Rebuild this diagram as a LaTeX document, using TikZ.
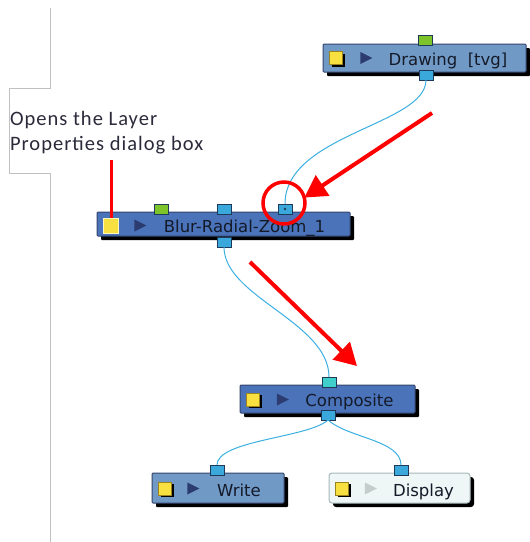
\documentclass[tikz,border=0pt]{standalone}
\usepackage{fontspec}
\setmainfont{DejaVu Sans}
\newfontfamily\notefont[LetterSpace=5]{Carlito}
\usetikzlibrary{arrows.meta, positioning, shapes.geometric, shadows}

\definecolor{nodedark}{HTML}{4A73BA}
\definecolor{nodelite}{HTML}{7199C6}
\definecolor{nodeedge}{HTML}{34446C}
\definecolor{viewfill}{HTML}{EEF6F6}
\definecolor{viewedge}{HTML}{A8B8B8}
\definecolor{titleink}{HTML}{141A28}
\definecolor{layeryellow}{HTML}{F8E040}
\definecolor{layeredge}{HTML}{9A8420}
\definecolor{layerpale}{HTML}{FFF6C0}
\definecolor{playink}{HTML}{2C3C70}
\definecolor{playpale}{HTML}{C4CCCC}
\definecolor{portblue}{HTML}{3BA8DC}
\definecolor{portgreen}{HTML}{7CC42A}
\definecolor{portteal}{HTML}{40D0CC}
\definecolor{portedge}{HTML}{1E3A5A}
\definecolor{wireblue}{HTML}{3AAFE0}
\definecolor{alert}{HTML}{FF0000}
\definecolor{framegray}{HTML}{C0C0C0}
\definecolor{noteink}{HTML}{2A2A3A}

\begin{document}
\begin{tikzpicture}[x=1pt, y=-1pt,
    every node/.style={inner sep=0pt, outer sep=0pt},
    netnode/.style={draw=nodeedge, fill=nodedark, line width=1pt, minimum height=28pt, rounded corners=1pt,
        drop shadow={shadow xshift=4pt, shadow yshift=-4pt, opacity=1, fill=black}},
    litenode/.style={netnode, fill=nodelite},
    viewnode/.style={netnode, draw=viewedge, fill=viewfill, rounded corners=3pt},
    title/.style={anchor=base, font=\fontsize{16.5}{18}\selectfont, text=titleink},
    layerface/.style={draw=layeredge, fill=layeryellow, line width=0.8pt, minimum size=13pt},
    layerbtn/.style={layerface, drop shadow={shadow xshift=2pt, shadow yshift=-2pt, opacity=1, fill=black}},
    playbtn/.style={isosceles triangle, isosceles triangle stretches, minimum width=12pt, minimum height=12pt, fill=playink},
    port/.style={draw=portedge, fill=portblue, line width=0.8pt, minimum width=14pt, minimum height=10pt},
    wire/.style={draw=wireblue, line width=1pt},
    ring/.style={circle, draw=alert, line width=3.5pt, minimum size=42pt},
    pointer/.style={draw=alert, line width=4pt, -{Triangle[length=22pt, width=24pt]}}
]
\useasboundingbox (0,0) rectangle (530,542);

% margin frame
\draw[framegray, line width=0.8pt] (50,8) -- (50,88) -- (9,88) -- (9,173) -- (50,173) -- (50,542);

% Drawing
\node[litenode, minimum width=203pt] (drawing) at (424.5,58) {};
\node[layerbtn] (drawing-layer) at (336,58) {};
\node[playbtn] (drawing-play) at (364,58) {};
\node[title] (drawing-name) at (448,65) {Drawing\ \ [tvg]};
\node[port, fill=portgreen] (drawing-in) at (425,40) {};
\node[port] (drawing-out) at (426,75) {};

% Blur-Radial-Zoom_1
\node[netnode, minimum width=253pt, minimum height=24pt] (blur) at (223.5,224) {};
\node[layerface, draw=layerpale, minimum size=15pt] (blur-layer) at (111,225.5) {};
\node[playbtn] (blur-play) at (138,225.5) {};
\node[title] (blur-name) at (244.5,232) {Blur-Radial-Zoom\_1};
\node[port, fill=portgreen] (blur-fx) at (161,209) {};
\node[port] (blur-mid) at (224,209) {};
\node[port, path picture={\fill[portedge] (path picture bounding box.center) circle (1.3pt);}] (blur-in) at (285,209) {};
\node[port] (blur-out) at (224,242) {};

% Composite
\node[netnode, minimum width=175pt] (composite) at (327.5,399) {};
\node[layerbtn] (comp-layer) at (253,399.5) {};
\node[playbtn] (comp-play) at (280.5,399.5) {};
\node[title] (comp-name) at (349.5,406) {Composite};
\node[port, fill=portteal] (comp-in) at (329,382) {};
\node[port] (comp-out) at (328,415) {};

% Write
\node[litenode, minimum width=132pt, minimum height=30pt] (write) at (218,488) {};
\node[layerbtn] (write-layer) at (165,488.5) {};
\node[playbtn] (write-play) at (191,488.5) {};
\node[title] (write-name) at (239,496) {Write};
\node[port] (write-in) at (217,470) {};

% Display
\node[viewnode, minimum width=141pt, minimum height=30pt] (display) at (399.5,488) {};
\node[layerbtn] (display-layer) at (342,488.5) {};
\node[playbtn, fill=playpale] (display-play) at (368.5,488.5) {};
\node[title] (display-name) at (423.5,496) {Display};
\node[port] (display-in) at (401,470) {};

% connections
\draw[wire] (drawing-out.south) .. controls +(0,45) and +(0,-70) .. (blur-in.north);
\draw[wire] (blur-out.south) .. controls +(0,50) and +(0,-55) .. (comp-in.north);
\draw[wire] (comp-out.south) .. controls +(-20,18) and +(0,-25) .. (write-in.north);
\draw[wire] (comp-out.south) .. controls +(20,18) and +(0,-25) .. (display-in.north);

% callout
\node[anchor=north west, align=left, text=noteink, font=\notefont\fontsize{20.5}{25}\selectfont] (note) at (10,111) {Opens the Layer\\Properties dialog box};
\coordinate (note-tick) at (111,160);
\draw[alert, line width=3pt] (note-tick) -- (blur-layer.north);

% highlights
\node[ring] (hilite) at (284,203) {};
\coordinate (hint1) at (432,113);
\draw[pointer] (hint1) -- (hilite.15);
\coordinate (hint2) at (250,262);
\coordinate (hint2-end) at (357,366);
\draw[pointer] (hint2) -- (hint2-end);

\end{tikzpicture}
\end{document}
